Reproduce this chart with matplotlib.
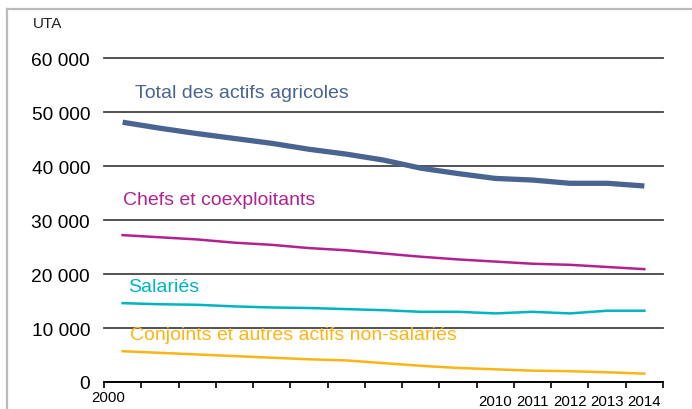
import matplotlib
matplotlib.use("Agg")
import matplotlib.pyplot as plt
from matplotlib.lines import Line2D

plt.rcParams['font.family'] = ['Liberation Sans', 'DejaVu Sans']

years = list(range(2000, 2015))
total = [48100, 47000, 46000, 45100, 44200, 43100, 42200, 41100, 39600, 38600,
         37700, 37400, 36800, 36800, 36300]
chefs = [27200, 26800, 26400, 25800, 25400, 24800, 24400, 23800, 23200, 22700,
         22300, 21900, 21700, 21300, 20900]
salaries = [14600, 14400, 14300, 14000, 13800, 13700, 13500, 13300, 13000, 13000,
            12700, 13000, 12700, 13200, 13200]
conjoints = [5700, 5400, 5100, 4800, 4500, 4200, 4000, 3500, 3000, 2600,
             2350, 2100, 2000, 1800, 1550]
yticks = [0, 10000, 20000, 30000, 40000, 50000, 60000]
ytick_labels = ["0", "10 000", "20 000", "30 000", "40 000", "50 000", "60 000"]
xlabels_shown = ["2010", "2011", "2012", "2013", "2014"]

W, H = 692, 410
fig = plt.figure(figsize=(W / 100, H / 100), dpi=100)
ax = fig.add_axes([104 / W, 1 - 383 / H, (663 - 104) / W, (383 - 59) / H])

xs = [i + 0.5 for i in range(len(years))]
ax.set_xlim(0, len(years))
ax.set_ylim(0, 60000)

for v in yticks[1:]:
    ax.axhline(v, color='#444444', lw=1.3, zorder=1, clip_on=False)

ax.plot(xs, total, color='#4A6491', lw=3.8, solid_capstyle='butt', zorder=3)
ax.plot(xs, chefs, color='#B0238F', lw=1.8, zorder=3)
ax.plot(xs, salaries, color='#00B5C0', lw=1.8, zorder=3)
ax.plot(xs, conjoints, color='#FDB515', lw=1.8, zorder=3)

for s in ['top', 'right', 'left']:
    ax.spines[s].set_visible(False)
ax.spines['bottom'].set_color('black')
ax.spines['bottom'].set_linewidth(1.4)

ax.set_yticks(yticks)
ax.set_yticklabels(ytick_labels, fontsize=13.8)
ax.tick_params(axis='y', length=0, pad=10)

ax.set_xticks(range(len(years) + 1), minor=False)
ax.set_xticklabels([])
ax.tick_params(axis='x', length=4, width=1.2, color='black', direction='out')

# year labels
ax.text(0.1, -0.045, "2000", transform=ax.get_xaxis_transform(), ha='center', va='center', fontsize=10.8)
for lab in xlabels_shown:
    i = years.index(int(lab))
    ax.text(xs[i], -0.058, lab, transform=ax.get_xaxis_transform(), ha='center', va='center', fontsize=10.8)

# series labels
def px(x, y):
    return x / W, 1 - y / H

fig.text(*px(135, 93), "Total des actifs agricoles", color='#4A6491', fontsize=14, va='center', ha='left')
fig.text(*px(123, 201), "Chefs et coexploitants", color='#B0238F', fontsize=14, va='center', ha='left')
fig.text(*px(128, 288), "Salariés", color='#00B5C0', fontsize=14, va='center', ha='left')
fig.text(*px(130, 336), "Conjoints et autres actifs non-salariés", color='#FDB515', fontsize=14, va='center', ha='left')
fig.text(*px(33, 24), "UTA", color='#222222', fontsize=11, va='center', ha='left')

# frame
fig.add_artist(Line2D([7 / W, 1.0], [1 - 10 / H, 1 - 10 / H], transform=fig.transFigure, color='#BBBBBB', lw=1.6))
fig.add_artist(Line2D([7 / W, 7 / W], [1 - 10 / H, 0], transform=fig.transFigure, color='#BBBBBB', lw=1.6))

fig.savefig("out.png", dpi=100)
